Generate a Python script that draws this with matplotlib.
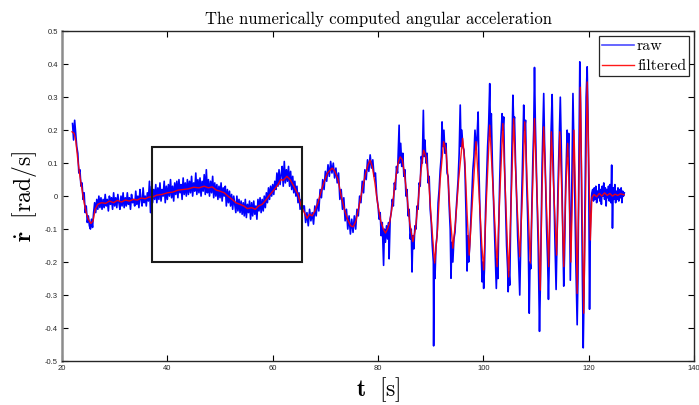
import numpy as np
import matplotlib
matplotlib.use("Agg")
import matplotlib.pyplot as plt
from matplotlib.patches import Rectangle

plt.rcParams["mathtext.fontset"] = "cm"

# ---- filtered signal ----
t_filt = [
    21.9, 22.3, 22.6, 23.0, 23.4, 23.8, 24.2, 24.6, 25.0, 25.5, 25.9, 26.3, 26.8,
    27.5, 28.3, 29.0, 29.8, 30.5, 31.3, 32.0, 32.8, 33.5, 34.3, 35.0, 35.8, 36.5,
    37.3, 38.0, 39.0, 40.0, 41.0, 42.0, 43.0, 44.0, 45.0, 46.0, 47.0, 47.8, 48.5,
    49.3, 50.0, 50.8, 51.5, 52.3, 53.0, 53.8, 54.5, 55.2, 56.0, 56.7, 57.3, 58.0,
    58.8, 59.5, 60.3, 61.0, 61.5, 62.0, 62.7, 63.3, 64.0, 64.8, 65.4, 66.0, 66.5,
    67.0, 67.5, 68.0, 68.6, 69.2, 69.8, 70.4, 71.0, 71.3, 71.8, 72.4, 73.0, 73.6,
    74.2, 74.8, 75.3, 75.8, 76.4, 77.0, 77.6, 78.1, 78.5, 78.9, 79.4, 79.9, 80.5,
    81.0, 81.4, 81.8, 82.2, 82.8, 83.3, 83.8, 84.2, 84.6, 85.0, 85.5, 86.0, 86.6,
    87.1, 87.6, 88.1, 88.65, 89.1, 89.6, 90.1, 90.75, 91.3, 91.8, 92.45, 92.9,
    93.3, 93.7, 94.2, 94.7, 95.3, 96.06, 96.5, 96.9, 97.3, 97.9, 98.6, 99.2, 99.7,
    100.05, 100.6, 101.2, 101.9, 102.6, 103.1, 103.7, 104.2, 104.8, 105.3, 105.75,
    106.3, 106.9, 107.4, 107.85, 108.4, 108.9, 109.3, 109.7, 110.2, 110.8, 111.1,
    111.45, 111.9, 112.4, 112.65, 112.9, 113.4, 113.9, 114.2, 114.5, 114.9, 115.25,
    115.6, 116.0, 116.3, 116.6, 116.9, 117.2, 117.5, 117.8, 118.1, 118.4, 118.7,
    119.05, 119.4, 119.7, 120.0, 120.3, 120.6, 121.0, 121.5, 122.0, 122.5, 123.0,
    123.5, 124.0, 124.5, 125.0, 125.5, 126.0, 126.7,
]
v_filt = [
    0.195, 0.19, 0.17, 0.11, 0.06, 0.02, -0.02, -0.05, -0.07, -0.083, -0.075, -0.04, -0.025,
    -0.02, -0.022, -0.015, -0.02, -0.013, -0.018, -0.012, -0.015, -0.01, -0.012, -0.006, -0.008, -0.003,
    -0.002, 0.003, 0.005, 0.01, 0.012, 0.018, 0.02, 0.022, 0.027, 0.025, 0.03, 0.025, 0.028,
    0.018, 0.015, 0.01, 0.0, -0.01, -0.02, -0.025, -0.03, -0.038, -0.035, -0.04, -0.03, -0.025,
    -0.01, 0.005, 0.02, 0.035, 0.05, 0.048, 0.06, 0.05, 0.03, 0.005, -0.03, -0.05, -0.067,
    -0.055, -0.06, -0.045, -0.02, 0.015, 0.045, 0.07, 0.08, 0.085, 0.075, 0.05, 0.0, -0.04,
    -0.07, -0.09, -0.093, -0.075, -0.03, 0.02, 0.065, 0.095, 0.109, 0.09, 0.04, -0.02, -0.075,
    -0.1, -0.112, -0.1, -0.08, -0.02, 0.05, 0.1, 0.119, 0.11, 0.07, 0.0, -0.08, -0.138,
    -0.1, -0.02, 0.07, 0.139, 0.12, 0.05, -0.07, -0.203, -0.1, 0.05, 0.165, 0.14,
    0.05, -0.06, -0.158, -0.08, 0.05, 0.175, 0.1, -0.05, -0.179, -0.02, 0.165, 0.0, -0.15,
    -0.224, 0.0, 0.215, 0.0, -0.214, 0.0, 0.22, 0.0, -0.245, 0.0, 0.235,
    0.0, -0.184, 0.0, 0.225, 0.0, -0.203, 0.0, 0.235, 0.0, -0.285, 0.0,
    0.21, 0.0, -0.214, 0.0, 0.195, 0.0, -0.179, 0.0, 0.195, 0.0, -0.214,
    0.0, 0.16, 0.0, -0.2, 0.0, 0.2, 0.0, -0.295, 0.0, 0.33, 0.0,
    -0.355, 0.0, 0.346, 0.1, -0.133, -0.005, 0.005, -0.002, 0.008, 0.0, 0.01,
    0.002, 0.008, 0.0, 0.006, 0.002, 0.007, 0.004,
]

# ---- raw signal, quiet part (22.0 .. 65.8 s every 0.2 s) ----
t_raw_a = 22.0 + 0.2 * np.arange(220)
v_raw_a = [
    0.22, 0.17, 0.23, 0.19, 0.15, 0.13, 0.07, 0.08, 0.03, 0.04,
    -0.01, 0.01, -0.05, -0.03, -0.08, -0.06, -0.09, -0.1, -0.07, -0.095,
    -0.05, -0.02, -0.05, -0.01, -0.04, 0.0, -0.035, -0.005, -0.04, -0.01,
    -0.035, 0.005, -0.03, -0.01, -0.045, 0.0, -0.025, -0.005, -0.04, 0.01,
    -0.03, -0.005, -0.035, 0.005, -0.02, -0.04, 0.0, -0.03, 0.01, -0.035,
    -0.005, -0.03, 0.01, -0.025, -0.005, -0.04, 0.005, -0.02, -0.01, -0.03,
    0.015, -0.025, 0.0, -0.035, 0.02, -0.01, -0.03, 0.025, -0.02, 0.0,
    -0.03, 0.01, -0.015, 0.045, -0.05, 0.03, -0.02, 0.02, -0.01, 0.035,
    -0.02, 0.025, -0.01, 0.04, -0.015, 0.02, 0.0, 0.045, -0.02, 0.03,
    -0.01, 0.035, 0.0, 0.05, -0.005, 0.03, -0.015, 0.04, 0.005, 0.045,
    -0.005, 0.05, 0.01, 0.035, -0.01, 0.055, 0.005, 0.04, 0.0, 0.05,
    0.005, 0.045, 0.01, 0.06, 0.0, 0.04, 0.015, 0.07, 0.005, 0.05,
    0.01, 0.055, 0.0, 0.045, 0.015, 0.065, 0.005, 0.08, 0.01, 0.05,
    0.0, 0.045, 0.01, 0.06, -0.005, 0.04, 0.0, 0.035, -0.01, 0.03,
    -0.005, 0.04, -0.015, 0.025, 0.0, 0.03, -0.03, 0.02, -0.02, 0.015,
    -0.03, 0.005, -0.04, 0.0, -0.025, -0.05, 0.0, -0.045, -0.01, -0.05,
    -0.015, -0.055, -0.02, -0.06, -0.01, -0.065, -0.025, -0.05, -0.015, -0.07,
    -0.02, -0.06, -0.015, -0.055, -0.03, -0.07, -0.01, -0.045, -0.005, -0.05,
    -0.01, -0.045, 0.0, -0.035, 0.01, -0.02, 0.025, -0.01, 0.03, 0.0,
    0.035, 0.005, 0.045, 0.02, 0.07, 0.03, 0.08, 0.035, 0.065, 0.09,
    0.03, 0.105, 0.04, 0.08, 0.045, 0.09, 0.03, 0.075, 0.02, 0.06,
    0.01, 0.045, 0.0, 0.03, -0.02, 0.01, -0.04, -0.01, -0.05, -0.03,
]

# ---- raw, slow oscillations (66.0 .. 79.75 s every 0.25 s) ----
t_raw_b = 66.0 + 0.25 * np.arange(56)
v_raw_b = [
    -0.03, -0.08, -0.05, -0.09, -0.04, -0.075, -0.05, -0.085, -0.03, -0.06,
    -0.01, -0.045, 0.02, -0.005, 0.05, 0.02, 0.075, 0.045, 0.095, 0.06,
    0.105, 0.07, 0.1, 0.055, 0.085, 0.04, 0.07, -0.01, 0.02, -0.04,
    -0.005, -0.075, -0.04, -0.1, -0.06, -0.115, -0.07, -0.11, -0.06, -0.1,
    -0.04, -0.06, 0.0, -0.02, 0.045, 0.01, 0.08, 0.05, 0.11, 0.075,
    0.125, 0.085, 0.11, 0.06, 0.07, 0.0,
]

# ---- raw, fast oscillations with spikes ----
t_raw_c = [
    80.0, 80.2, 80.4, 80.6, 80.8, 81.05, 81.2, 81.4, 81.6, 81.8, 82.0, 82.1, 82.3,
    82.5, 82.7, 82.9, 83.1, 83.3, 83.5, 83.7, 83.85, 84.0, 84.1, 84.3, 84.5, 84.7,
    84.9, 85.1, 85.3, 85.5, 85.7, 85.9, 86.1, 86.3, 86.45, 86.6, 86.8, 87.0, 87.2,
    87.4, 87.6, 87.8, 88.0, 88.2, 88.4, 88.6, 88.75, 88.9, 89.1, 89.3, 89.5, 89.7,
    89.9, 90.1, 90.3, 90.5, 90.55, 90.65, 90.8, 91.0, 91.2, 91.4, 91.6, 91.8, 92.0,
    92.15, 92.3, 92.5, 92.7, 92.9, 93.1, 93.3, 93.5, 93.7, 93.85, 94.0, 94.2, 94.4,
    94.6, 94.8, 95.0, 95.2, 95.4, 95.6, 95.75, 95.9, 96.1, 96.3, 96.5, 96.7, 96.9,
    97.05, 97.2, 97.4, 97.6, 97.8, 98.0, 98.2, 98.4, 98.6, 98.8, 99.0, 99.15, 99.35,
    99.55, 99.75, 99.9, 100.05, 100.2, 100.4, 100.6, 100.8, 101.0, 101.2, 101.35,
    101.5, 101.7, 101.9, 102.1, 102.3, 102.45, 102.6, 102.75, 102.9, 103.1, 103.3,
    103.55, 103.7, 103.85, 104.0, 104.2, 104.4, 104.6, 104.7, 104.85, 105.0, 105.2,
    105.4, 105.6, 105.75, 105.9, 106.1, 106.3, 106.5, 106.7, 106.9, 107.05, 107.2,
    107.4, 107.65, 107.8, 108.0, 108.2, 108.4, 108.55, 108.7, 108.85, 109.0, 109.2,
    109.4, 109.55, 109.7, 109.85, 110.0, 110.2, 110.4, 110.65, 110.8, 110.95, 111.15,
    111.3, 111.45, 111.6, 111.8, 112.0, 112.2, 112.35, 112.5, 112.7, 112.85, 113.05,
    113.2, 113.4, 113.6, 113.8, 113.95, 114.15, 114.35, 114.6, 114.75, 114.95, 115.1,
    115.25, 115.4, 115.6, 115.9, 116.05, 116.2, 116.35, 116.5, 116.6, 116.8, 117.0,
    117.15, 117.35, 117.55, 117.8, 117.95, 118.1, 118.3, 118.45, 118.65, 118.8,
    118.95, 119.1, 119.3, 119.5, 119.7, 119.85, 120.0, 120.15, 120.3, 120.45, 120.6,
]
v_raw_c = [
    -0.03, -0.07, -0.05, -0.12, -0.08, -0.21, -0.1, -0.14, -0.09, -0.13, -0.08, -0.19, -0.07,
    -0.05, -0.01, -0.03, 0.04, 0.02, 0.09, 0.07, 0.14, 0.215, 0.1, 0.16, 0.09, 0.13,
    0.06, 0.08, 0.0, 0.02, -0.06, -0.04, -0.13, -0.1, -0.23, -0.12, -0.16, -0.09, -0.1,
    -0.03, -0.04, 0.04, 0.03, 0.12, 0.1, 0.26, 0.12, 0.17, 0.1, 0.13, 0.04, 0.06,
    -0.04, -0.08, -0.15, -0.2, -0.454, -0.2, -0.25, -0.15, -0.12, -0.02, 0.02, 0.08, 0.12,
    0.225, 0.15, 0.2, 0.13, 0.16, 0.07, 0.06, -0.03, -0.1, -0.249, -0.14, -0.2, -0.13,
    -0.11, -0.05, 0.0, 0.05, 0.13, 0.276, 0.15, 0.2, 0.15, 0.14, 0.08, -0.05, -0.227,
    -0.12, -0.2, -0.15, -0.08, 0.0, 0.08, 0.12, 0.2, 0.14, 0.18, 0.255, 0.08, -0.05,
    -0.16, -0.26, -0.2, -0.28, -0.22, -0.05, 0.05, 0.15, 0.22, 0.341, 0.18,
    0.25, 0.1, 0.0, -0.1, -0.2, -0.28, -0.19, -0.25, -0.1, 0.05, 0.17,
    0.25, 0.2, 0.24, 0.1, -0.02, -0.15, -0.22, -0.29, -0.23, -0.27, -0.05,
    0.12, 0.306, 0.22, 0.24, 0.1, 0.0, -0.12, -0.2, -0.3, -0.17, -0.05,
    0.08, 0.276, 0.2, 0.23, 0.05, -0.06, -0.18, -0.355, -0.2, -0.22, -0.03,
    0.12, 0.2, 0.39, 0.23, 0.12, -0.02, -0.15, -0.41, -0.28, -0.12, 0.1,
    0.2, 0.311, 0.17, 0.05, -0.1, -0.2, -0.313, -0.2, 0.05, 0.2, 0.308,
    0.15, 0.0, -0.15, -0.283, -0.16, 0.02, 0.15, 0.3, 0.18, 0.0, -0.15,
    -0.273, -0.18, 0.02, 0.2, 0.12, 0.19, 0.0, -0.255, -0.15, 0.05, 0.311,
    0.18, 0.0, -0.2, -0.39, -0.25, 0.05, 0.407, 0.28, 0.0, -0.25,
    -0.46, -0.3, 0.0, 0.3, 0.392, 0.25, 0.05, -0.343, -0.1, -0.02, 0.01,
]

# ---- raw, quiet tail (120.75 .. 126.75 s every 0.15 s) ----
t_raw_d = 120.75 + 0.15 * np.arange(41)
v_raw_d = [
    0.02, -0.015, 0.025, -0.01, 0.03, -0.02, 0.015, -0.005, 0.035, -0.015,
    0.02, -0.025, 0.03, 0.0, 0.04, -0.01, 0.025, -0.03, 0.02, -0.005,
    0.03, -0.015, 0.035, -0.02, 0.094, -0.097, 0.025, -0.01, 0.035, -0.02,
    0.015, -0.01, 0.025, -0.015, 0.02, -0.005, 0.025, -0.02, 0.015, 0.0,
    0.01,
]

t_raw = np.concatenate([t_raw_a, t_raw_b, t_raw_c, t_raw_d])
v_raw = np.concatenate([v_raw_a, v_raw_b, v_raw_c, v_raw_d])

# zoom box drawn on the chart: (t0, t1, v0, v1)
box_t = (37.0, 65.5)
box_v = (-0.2, 0.15)

x_ticks = [20, 40, 60, 80, 100, 120, 140]
y_ticks = [-0.5, -0.4, -0.3, -0.2, -0.1, 0.0, 0.1, 0.2, 0.3, 0.4, 0.5]
y_tick_labels = ["-0.5", "-0.4", "-0.3", "-0.2", "-0.1", "0", "0.1", "0.2", "0.3", "0.4", "0.5"]

fig = plt.figure(figsize=(6.99, 4.05), dpi=100)
ax = fig.add_axes([0.0887, 0.1086, 0.9043, 0.8144])

ax.plot(t_raw, v_raw, color="#0000ff", lw=1.2, label="raw")
ax.plot(t_filt, v_filt, color="#ff0000", lw=1.0, alpha=0.9, label="filtered")
ax.add_patch(Rectangle((box_t[0], box_v[0]), box_t[1] - box_t[0], box_v[1] - box_v[0],
                       fill=False, edgecolor="#1a1a1a", lw=1.5, zorder=5))

ax.set_xlim(20, 140)
ax.set_ylim(-0.5, 0.5)
ax.set_xticks(x_ticks)
ax.set_xticklabels([str(x) for x in x_ticks])
ax.set_yticks(y_ticks)
ax.set_yticklabels(y_tick_labels)
ax.tick_params(direction="in", length=4.5, width=0.8, top=True, right=True,
               labelsize=5.5, labelcolor="#262626", pad=3)
for lab in ax.get_xticklabels() + ax.get_yticklabels():
    lab.set_fontfamily("Liberation Sans")
for side in ["top", "right", "bottom"]:
    ax.spines[side].set_linewidth(1.0)
    ax.spines[side].set_color("#262626")
ax.spines["left"].set_linewidth(1.8)
ax.spines["left"].set_color("#8c8c8c")

ax.set_title("The numerically computed angular acceleration", fontfamily="cmr10",
             fontsize=12, pad=5)
ax.set_xlabel(r"$\mathbf{t}\ \ [\mathrm{s}]$", fontsize=17, labelpad=2)
ax.set_ylabel(r"$\dot{\mathbf{r}}\ \ [\mathrm{rad/s}]$", fontsize=17, labelpad=4)

leg = ax.legend(loc="upper right", prop={"family": "cmr10", "size": 11.5},
                frameon=True, fancybox=False, edgecolor="#262626", framealpha=1,
                handlelength=2.0, handletextpad=0.2, borderpad=0.2,
                labelspacing=0.35, borderaxespad=0.3)
leg.get_frame().set_linewidth(0.9)
leg.get_lines()[0].set_alpha(0.7)

fig.savefig("out.png", dpi=100)
